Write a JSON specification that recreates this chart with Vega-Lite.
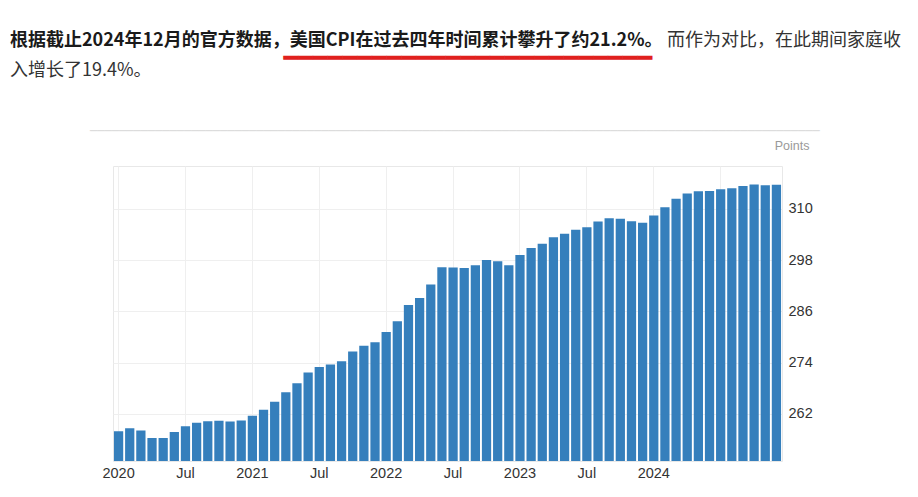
{
  "$schema": "https://vega.github.io/schema/vega-lite/v6.json",
  "background": "white",
  "padding": {"left": 10, "top": 32, "right": 5, "bottom": 5},
  "title": {
    "text": "根据截止2024年12月的官方数据，美国CPI在过去四年时间累计攀升了约21.2%。",
    "subtitle": ["\u200b\u3000\u3000\u3000\u3000\u3000\u3000\u3000\u3000\u3000\u3000\u3000\u3000\u3000\u3000\u3000\u3000\u3000\u3000\u3000\u3000\u3000\u3000\u3000\u3000\u3000\u3000\u3000\u3000\u3000\u3000\u3000\u3000\u3000\u3000\u3000\u3000\u2002而作为对比，在此期间家庭收", "入增长了19.4%。"],
    "anchor": "start",
    "frame": "group",
    "dx": -103,
    "offset": -35.5,
    "font": "Noto Sans CJK SC",
    "fontSize": 18,
    "fontWeight": "bold",
    "color": "#1a1a1a",
    "subtitleFont": "Noto Sans CJK SC",
    "subtitleFontSize": 18,
    "subtitleFontWeight": "normal",
    "subtitleColor": "#333333",
    "subtitlePadding": -18,
    "subtitleLineHeight": 30
  },
  "bounds": "flush",
  "spacing": 0,
  "vconcat": [
    {
      "width": 669,
      "height": 295,
      "title": {
        "text": "─────────────────────────────────────────────────────────────────────────────────────────────────────",
        "anchor": "start",
        "frame": "group",
        "dx": -23,
        "offset": -93,
        "font": "DejaVu Sans",
        "fontSize": 12,
        "fontWeight": "normal",
        "color": "#d9d9d9"
      },
      "data": {
        "values": [
          {"m": "2020-01", "cpi": 257.971}, {"m": "2020-02", "cpi": 258.678}, {"m": "2020-03", "cpi": 258.115}, {"m": "2020-04", "cpi": 256.389},
          {"m": "2020-05", "cpi": 256.394}, {"m": "2020-06", "cpi": 257.797}, {"m": "2020-07", "cpi": 259.101}, {"m": "2020-08", "cpi": 259.918},
          {"m": "2020-09", "cpi": 260.280}, {"m": "2020-10", "cpi": 260.388}, {"m": "2020-11", "cpi": 260.229}, {"m": "2020-12", "cpi": 260.474},
          {"m": "2021-01", "cpi": 261.582}, {"m": "2021-02", "cpi": 263.014}, {"m": "2021-03", "cpi": 264.877}, {"m": "2021-04", "cpi": 267.054},
          {"m": "2021-05", "cpi": 269.195}, {"m": "2021-06", "cpi": 271.696}, {"m": "2021-07", "cpi": 273.003}, {"m": "2021-08", "cpi": 273.567},
          {"m": "2021-09", "cpi": 274.310}, {"m": "2021-10", "cpi": 276.589}, {"m": "2021-11", "cpi": 277.948}, {"m": "2021-12", "cpi": 278.802},
          {"m": "2022-01", "cpi": 281.148}, {"m": "2022-02", "cpi": 283.716}, {"m": "2022-03", "cpi": 287.504}, {"m": "2022-04", "cpi": 289.109},
          {"m": "2022-05", "cpi": 292.296}, {"m": "2022-06", "cpi": 296.311}, {"m": "2022-07", "cpi": 296.276}, {"m": "2022-08", "cpi": 296.171},
          {"m": "2022-09", "cpi": 296.808}, {"m": "2022-10", "cpi": 298.012}, {"m": "2022-11", "cpi": 297.711}, {"m": "2022-12", "cpi": 296.797},
          {"m": "2023-01", "cpi": 299.170}, {"m": "2023-02", "cpi": 300.840}, {"m": "2023-03", "cpi": 301.836}, {"m": "2023-04", "cpi": 303.363},
          {"m": "2023-05", "cpi": 304.127}, {"m": "2023-06", "cpi": 305.109}, {"m": "2023-07", "cpi": 305.691}, {"m": "2023-08", "cpi": 307.026},
          {"m": "2023-09", "cpi": 307.789}, {"m": "2023-10", "cpi": 307.671}, {"m": "2023-11", "cpi": 307.051}, {"m": "2023-12", "cpi": 306.746},
          {"m": "2024-01", "cpi": 308.417}, {"m": "2024-02", "cpi": 310.326}, {"m": "2024-03", "cpi": 312.332}, {"m": "2024-04", "cpi": 313.548},
          {"m": "2024-05", "cpi": 314.069}, {"m": "2024-06", "cpi": 314.175}, {"m": "2024-07", "cpi": 314.540}, {"m": "2024-08", "cpi": 314.796},
          {"m": "2024-09", "cpi": 315.301}, {"m": "2024-10", "cpi": 315.664}, {"m": "2024-11", "cpi": 315.493}, {"m": "2024-12", "cpi": 315.605}
        ]
      },
      "mark": {"type": "bar", "color": "#357fbc", "clip": true},
      "encoding": {
        "x": {
          "field": "m",
          "type": "ordinal",
          "scale": {"paddingInner": 0.17, "paddingOuter": 0.085},
          "axis": {
            "values": ["2020-01", "2020-07", "2021-01", "2021-07", "2022-01", "2022-07", "2023-01", "2023-07", "2024-01", "2024-07"],
            "labelExpr": "substring(datum.value, 5, 7) == '01' ? substring(datum.value, 0, 4) : (datum.value == '2024-07' ? '' : 'Jul')",
            "labelAngle": 0,
            "labelPadding": 5,
            "grid": true,
            "title": "━━━━━━━━━━━━━━━━━━━━━━━━━",
            "titleColor": "#e0201e",
            "titleFont": "DejaVu Sans",
            "titleFontSize": 24.5,
            "titleFontWeight": "normal",
            "titleAlign": "left",
            "titleAnchor": "start",
            "titleBaseline": "middle",
            "titleX": 170,
            "titleY": -403
          }
        },
        "y": {
          "field": "cpi",
          "type": "quantitative",
          "scale": {"domain": [251, 320], "zero": false, "nice": false},
          "axis": {
            "orient": "right",
            "values": [262, 274, 286, 298, 310],
            "labelPadding": 6,
            "grid": true,
            "title": "Points",
            "titleAngle": 0,
            "titleAlign": "right",
            "titleBaseline": "middle",
            "titleX": 27,
            "titleY": -21,
            "titleFont": "Liberation Sans",
            "titleFontSize": 12.5,
            "titleFontWeight": "normal",
            "titleColor": "#9a9a9a"
          }
        }
      }
    }
  ],
  "config": {
    "view": {"stroke": "#e8e8e8", "strokeWidth": 1},
    "axis": {
      "domain": false,
      "ticks": false,
      "labelFont": "Liberation Sans",
      "labelFontSize": 14.5,
      "labelColor": "#333333",
      "gridColor": "#efefef",
      "gridWidth": 1
    }
  }
}
